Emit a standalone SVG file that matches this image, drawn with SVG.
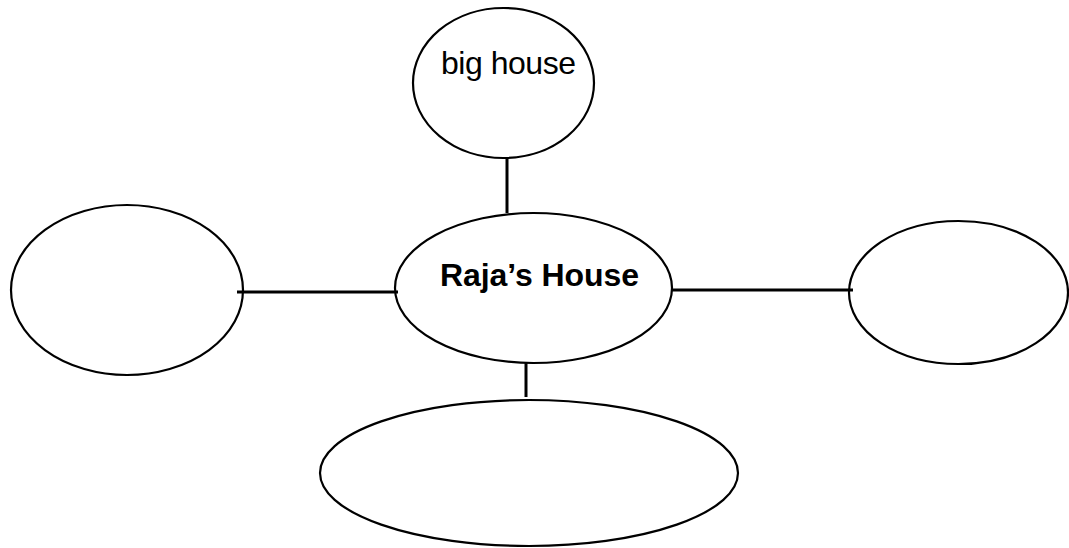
<svg xmlns="http://www.w3.org/2000/svg" width="1069" height="548" viewBox="0 0 1069 548">
<style>
.node{fill:none;stroke:#000;stroke-width:2.2}
.conn{stroke:#000;stroke-width:3;fill:none}
.lbl{font-family:"Liberation Sans",Arial,sans-serif;font-size:32px;fill:#000}
.bold{font-weight:bold}
</style>
<rect width="1069" height="548" fill="#fff"/>
<g id="connectors">
<line class="conn" x1="507" y1="158" x2="507" y2="213"/>
<line class="conn" x1="237" y1="292" x2="398" y2="292"/>
<line class="conn" x1="671" y1="290" x2="853" y2="290"/>
<line class="conn" x1="526" y1="362" x2="526" y2="397"/>
</g>
<g id="top">
<ellipse class="node" cx="503.5" cy="83" rx="90.5" ry="75"/>
<text class="lbl" x="441" y="73.5" textLength="135">big house</text>
</g>
<g id="center">
<ellipse class="node" cx="533.5" cy="288" rx="138.5" ry="75"/>
<text class="lbl bold" x="440" y="285.5" textLength="199">Raja’s House</text>
</g>
<g id="left">
<ellipse class="node" cx="127" cy="290" rx="116" ry="85"/>
</g>
<g id="right">
<ellipse class="node" cx="958.5" cy="292.5" rx="109.5" ry="71.5"/>
</g>
<g id="bottom">
<ellipse class="node" cx="529" cy="473" rx="209" ry="73"/>
</g>
</svg>
